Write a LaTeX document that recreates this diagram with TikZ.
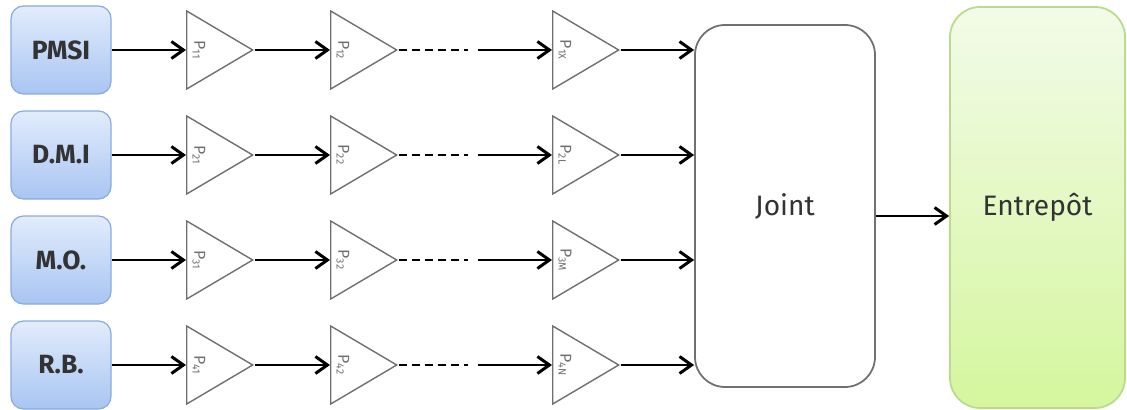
\documentclass[tikz,border=0pt]{standalone}
\usepackage{fontspec}
\setmainfont{Fira Sans}
\usepackage{xcolor}
\usetikzlibrary{positioning,shapes.geometric,arrows.meta}

\definecolor{srcline}{HTML}{8AABDF}
\definecolor{srctop}{HTML}{E2ECFC}
\definecolor{srcbot}{HTML}{A8C5F2}
\definecolor{whline}{HTML}{B8DC8C}
\definecolor{whtop}{HTML}{F2FBE8}
\definecolor{whbot}{HTML}{D5F69E}
\definecolor{procline}{HTML}{707070}
\definecolor{txtgray}{HTML}{333333}

\begin{document}
\begin{tikzpicture}[>={Straight Barb[length=2.4mm,width=3.4mm]}, line width=1.7pt,
    src/.style={draw=srcline, line width=0.7pt, rounded corners=0.25cm, top color=srctop, bottom color=srcbot,
        minimum width=2cm, minimum height=1.76cm, font=\fontsize{15}{18}\selectfont\bfseries, text=txtgray},
    proc/.style={isosceles triangle, isosceles triangle stretches, draw=procline, line width=0.8pt, fill=white,
        minimum width=1.56cm, minimum height=1.32cm, inner sep=0pt, anchor=lower side},
    plabel/.style={rotate=-90, font=\fontsize{9}{10}\selectfont, text=procline},
    bigbox/.style={line width=1pt, rounded corners=0.6cm, font=\fontsize{16}{19}\selectfont, text=txtgray}]

    \useasboundingbox (0,0) rectangle (22.54,-8.2);

    \node[bigbox, draw=procline, fill=white, minimum width=3.6cm, minimum height=7.24cm] (joint) at (15.7,-4.12) {Joint};
    \node[bigbox, draw=whline, top color=whtop, bottom color=whbot, minimum width=3.5cm, minimum height=8.02cm] (wh) at (20.75,-4.15) {Entrepôt};

    \foreach \r/\name/\last [evaluate=\r as \y using -1.0-2.1*(\r-1)] in {1/PMSI/X, 2/D.M.I/L, 3/M.O./M, 4/R.B./N} {
        \node[src] (s\r) at (1.22,\y) {\name};
        \node[proc] (p\r1) at (3.72,\y) {};
        \node[proc] (p\r2) at (6.6,\y) {};
        \node[proc] (p\r3) at (11.04,\y) {};
        \node[plabel] (l\r1) at ([xshift=0.26cm]p\r1.lower side) {P\textsubscript{\r1}};
        \node[plabel] (l\r2) at ([xshift=0.26cm]p\r2.lower side) {P\textsubscript{\r2}};
        \node[plabel] (l\r3) at ([xshift=0.26cm]p\r3.lower side) {P\textsubscript{\r\last}};
        \coordinate (d\r) at (9.36,\y);
        \coordinate (g\r) at (9.56,\y);

        \draw[->] (s\r) -- (p\r1);
        \draw[->] (p\r1.apex) -- (p\r2);
        \draw[dash pattern=on 1.6mm off 1mm] (p\r2.apex) -- (d\r);
        \draw[->] (g\r) -- (p\r3);
        \draw[->] (p\r3.apex) -- (p\r3.apex -| joint.west);
    }

    \draw[->] ([yshift=-0.2cm]joint.east) -- ([yshift=-0.2cm]joint.east -| wh.west);
\end{tikzpicture}
\end{document}
